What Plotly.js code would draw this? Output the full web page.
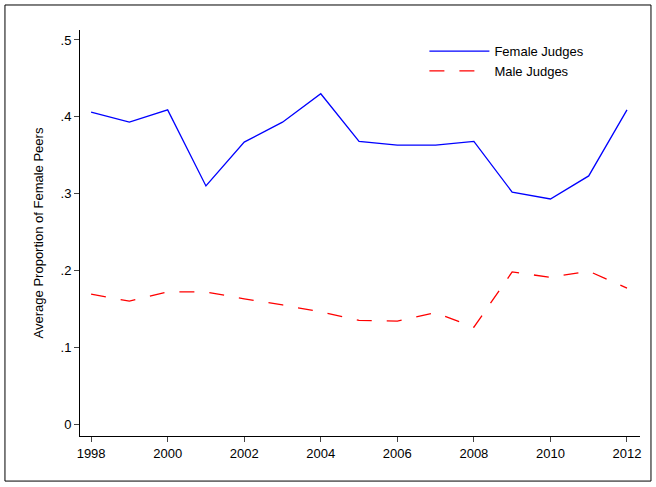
<!DOCTYPE html>
<html><head><script src="https://cdn.plot.ly/plotly-3.0.1.min.js"></script>
<style>body{margin:0}</style></head><body><div id="c" style="width:656px;height:487px"></div>
<script>
const years=[1998,1999,2000,2001,2002,2003,2004,2005,2006,2007,2008,2009,2010,2011,2012];
const female=[.406,.393,.409,.310,.367,.393,.430,.368,.363,.363,.368,.302,.293,.323,.409];
const male=[.169,.160,.172,.172,.163,.155,.146,.135,.134,.145,.126,.198,.191,.199,.177];
const yticks=[0,.1,.2,.3,.4,.5];
const yticklabels=["0",".1",".2",".3",".4",".5"];
const xticks=[1998,2000,2002,2004,2006,2008,2010,2012];
Plotly.newPlot('c',[
{x:years,y:female,mode:'lines',name:'Female Judges',line:{color:'#0000ff',width:1.3}},
{x:years,y:male,mode:'lines',name:'Male Judges',line:{color:'#ff0000',width:1.3,dash:'longdash'}}
],{width:656,height:487,paper_bgcolor:'white',plot_bgcolor:'white',
margin:{l:80,r:16,t:30,b:51},
font:{family:'Liberation Sans, Arial',size:13,color:'black'},
xaxis:{range:[1997.71,2012.34],tickvals:xticks,ticks:'outside',ticklen:5,showgrid:false,zeroline:false,showline:true,linecolor:'black',linewidth:1},
yaxis:{range:[-0.0156,0.513],tickvals:yticks,ticktext:yticklabels,ticks:'outside',ticklen:5,showgrid:false,zeroline:false,showline:true,linecolor:'black',linewidth:1,
 title:{text:'Average Proportion of Female Peers',font:{size:13},standoff:14}},
legend:{x:0.615,y:0.985,xanchor:'left',yanchor:'top',bgcolor:'rgba(0,0,0,0)',font:{size:13},itemwidth:60,tracegroupgap:0},
shapes:[{type:'rect',xref:'paper',yref:'paper',x0:-0.134,x1:1.0196,y0:-0.111,y1:1.0616,line:{color:'black',width:1}}]
},{displayModeBar:false});
</script></body></html>
